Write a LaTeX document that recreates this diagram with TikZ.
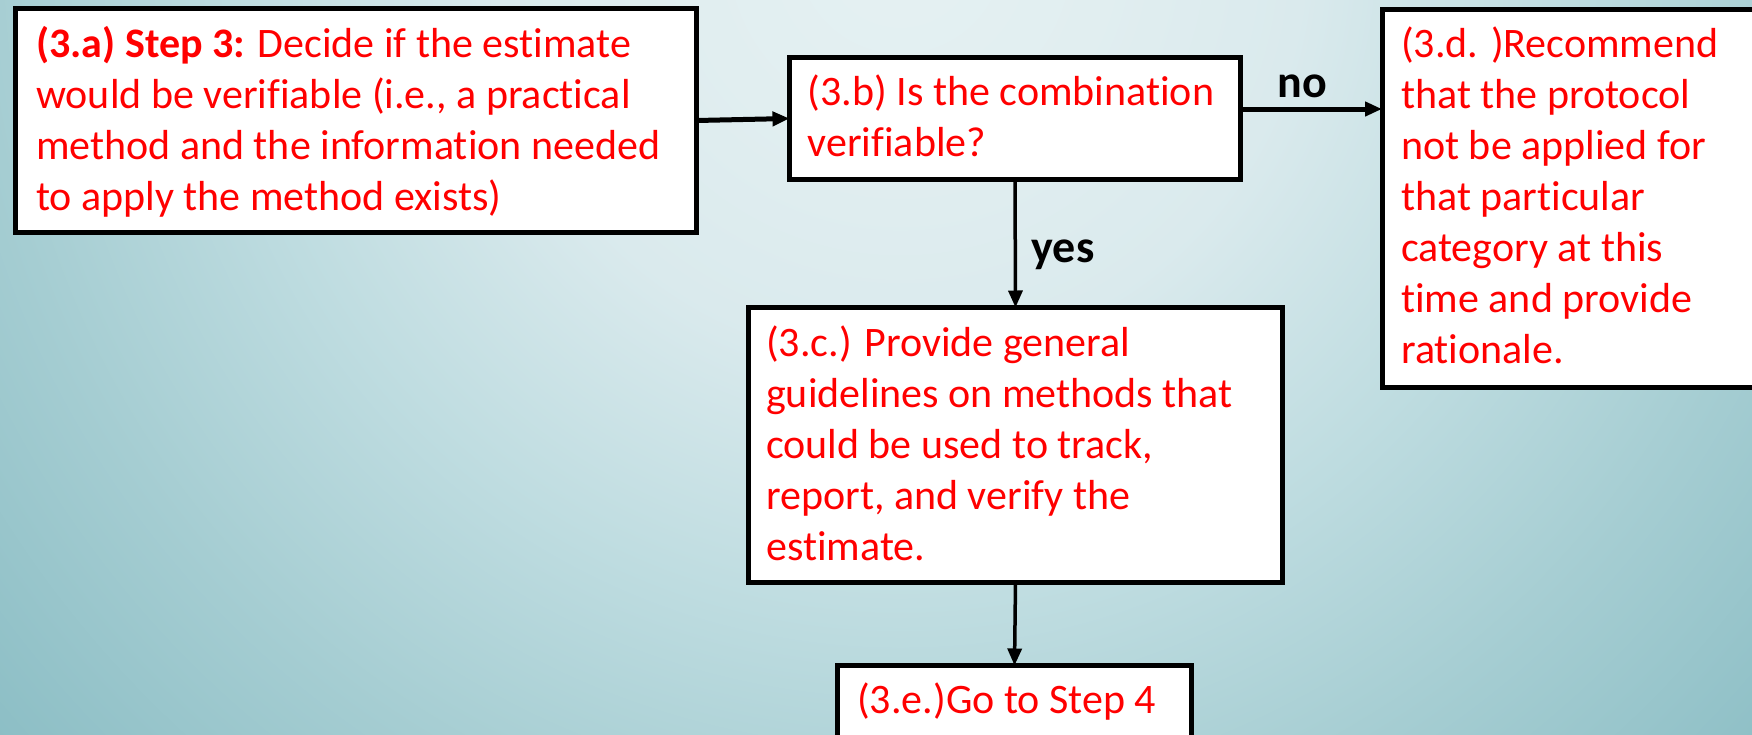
\documentclass[tikz,border=0pt]{standalone}
\usepackage{fontspec}
\setmainfont{Carlito}[Ligatures=NoCommon]
\usetikzlibrary{arrows.meta,calc}

% background colours, from the bright top towards the darker teal rim
\definecolor{bgA}{HTML}{E5F1F3}
\definecolor{bgB}{HTML}{E1EEF0}
\definecolor{bgC}{HTML}{DAEAED}
\definecolor{bgD}{HTML}{BEDCE0}
\definecolor{bgE}{HTML}{A5CDD2}
\definecolor{bgF}{HTML}{8CBEC5}
\definecolor{steptext}{HTML}{FF0000}

\pgfdeclareradialshading{slidebg}{\pgfpoint{0bp}{0bp}}{%
  color(0bp)=(bgA); color(4.3bp)=(bgB); color(8.4bp)=(bgC);
  color(14bp)=(bgD); color(19.2bp)=(bgE); color(25bp)=(bgF); color(50bp)=(bgF)}

% a block of left-aligned lines whose baseline is that of its first line
\newcommand{\steplines}[1]{\begin{tabular}[t]{@{}l@{}}#1\end{tabular}}

\tikzset{
  stepbox/.style={draw=black, line width=5pt, fill=white, rectangle,
    inner sep=0pt, outer sep=0pt, anchor=north west},
  steptxt/.style={text=steptext, inner sep=0pt, anchor=base west,
    font=\fontsize{42pt}{51pt}\selectfont},
  answer/.style={text=black, inner sep=0pt, anchor=base,
    font=\fontsize{46pt}{55pt}\selectfont\bfseries},
  flow/.style={draw=black, line width=#1, -{Triangle[length=17pt,width=14pt]}},
  flow/.default=3.5pt
}

\begin{document}
\begin{tikzpicture}[x=1pt, y=-1pt]
  \useasboundingbox (0,0) rectangle (1752,734);

  % shaded slide background
  \begin{scope}
    \clip (0,0) rectangle (1752,734);
    \shade[shading=slidebg] (900,-50) circle (1200pt);
  \end{scope}

  % boxes
  \node[stepbox, minimum width=681pt, minimum height=224pt] (A) at (15.5,8.5) {};
  \node[stepbox, minimum width=451pt, minimum height=122pt] (B) at (789.5,57.5) {};
  \node[stepbox, minimum width=400pt, minimum height=378pt] (D) at (1382,9.5) {};
  \node[stepbox, minimum width=534pt, minimum height=275pt] (C) at (748.5,307.5) {};
  \node[stepbox, minimum width=354pt, minimum height=100pt] (E) at (837.5,665.5) {};

  % box texts
  \node[steptxt] (tA) at (36,57) {\steplines{\textbf{(3.a) Step 3:} Decide if the estimate\\
    would be verifiable (i.e., a practical\\
    method and the information needed\\
    to apply the method exists)}};
  \node[steptxt] (tB) at (807.5,105) {\steplines{(3.b) Is the combination\\verifiable?}};
  \node[steptxt] (tD) at (1401,57) {\steplines{(3.d. )Recommend\\that the protocol\\
    not be applied for\\that particular\\category at this\\time and provide\\rationale.}};
  \node[steptxt] (tC) at (766,356) {\steplines{(3.c.) Provide general\\guidelines on methods that\\
    could be used to track,\\report, and verify the\\estimate.}};
  \node[steptxt] (tE) at (857,713) {(3.e.)Go to Step 4};

  % connectors
  \coordinate (bd) at ($(B.north east)+(0,51.5)$);
  \draw[flow=5pt] (A.east) -- (B.west);
  \draw[flow=5pt] (bd) -- (bd -| D.west);
  \draw[flow] (B.south) -- (C.north);
  \draw[flow] (C.south) -- (E.north);

  % branch labels
  \node[answer] (no) at (1302,97) {no};
  \node[answer] (yes) at (1063,262) {yes};
\end{tikzpicture}
\end{document}
